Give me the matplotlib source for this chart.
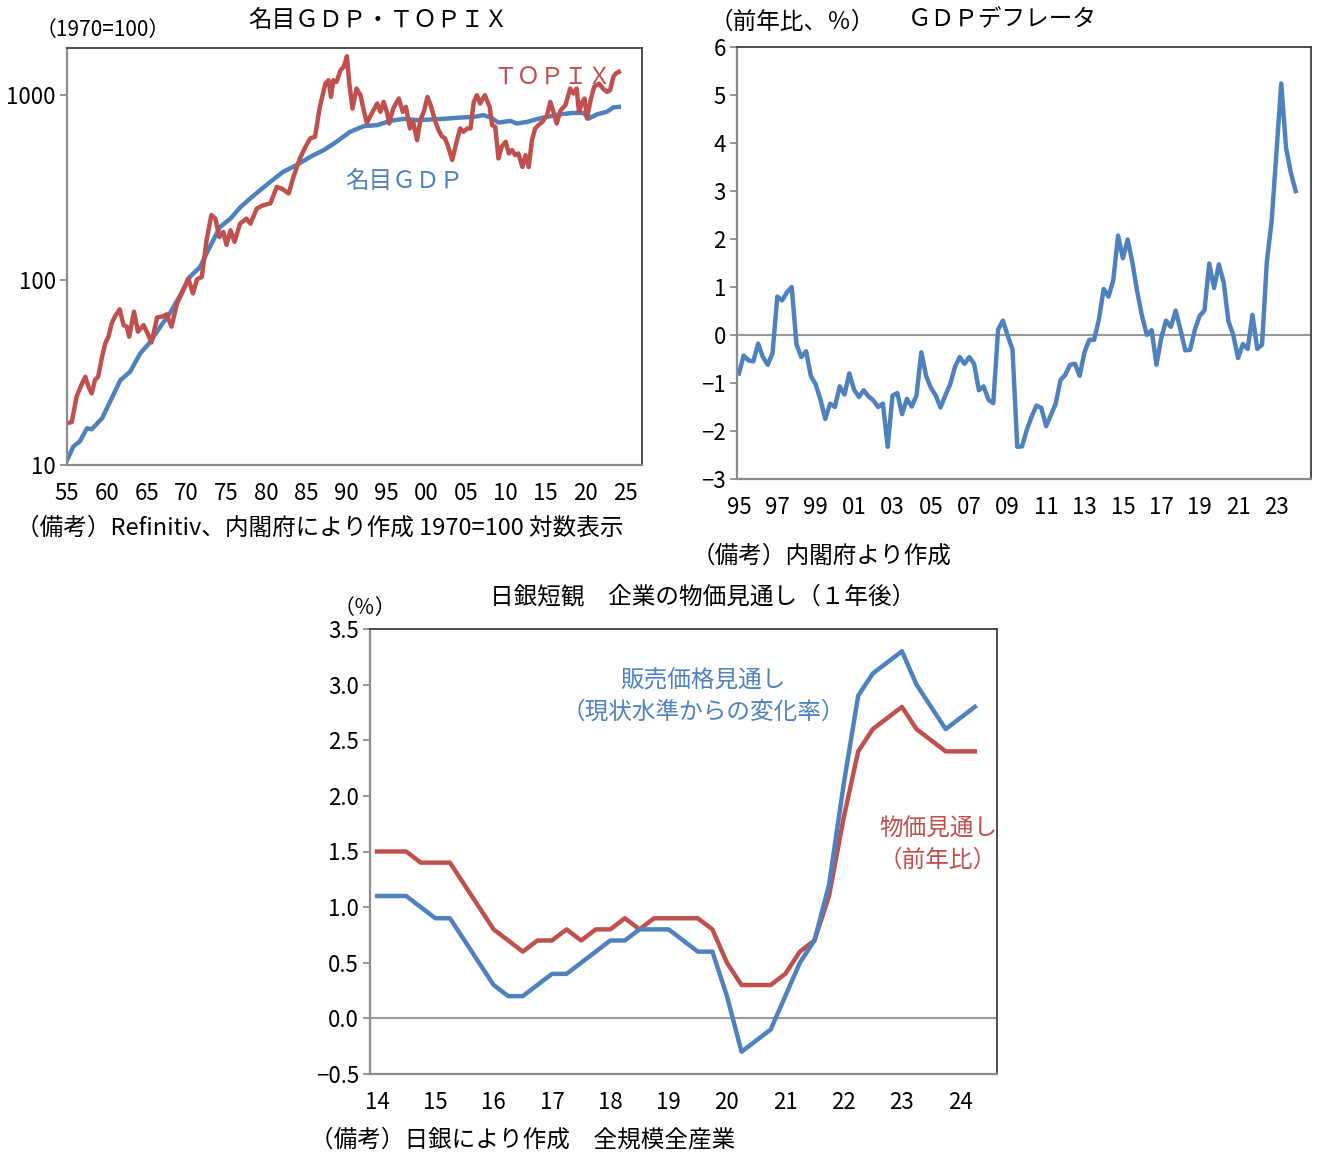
import matplotlib
matplotlib.use('Agg')
import matplotlib.pyplot as plt
from matplotlib.ticker import FixedLocator, NullLocator

plt.rcParams['font.family'] = ['Noto Sans CJK JP', 'DejaVu Sans']
NUM_FONT = ['Liberation Sans Narrow', 'Noto Sans CJK JP', 'DejaVu Sans']

BLUE = '#4F81BD'
RED = '#C0504D'

# ---- 名目GDP・TOPIX (1970=100, 対数) ----
gdp_year = [1955.0, 1955.8, 1956.6, 1957.5, 1958.1, 1959.4, 1960.4, 1961.7, 1962.9, 1964.2,
            1965.4, 1966.7, 1967.9, 1969.2, 1970.4, 1971.7, 1972.9, 1974.2, 1975.5, 1976.7,
            1978.0, 1979.2, 1980.5, 1982.1, 1983.8, 1985.5, 1987.2, 1988.8, 1990.5, 1992.2,
            1993.9, 1995.5, 1997.2, 1998.9, 2000.5, 2002.2, 2004.1, 2006.0, 2007.2, 2008.1,
            2009.1, 2010.6, 2011.4, 2012.7, 2013.9, 2015.2, 2016.9, 2018.5, 2019.8, 2020.4,
            2021.5, 2022.7, 2023.5, 2024.2]
gdp_value = [10.6, 12.6, 13.4, 15.8, 15.6, 17.9, 22.0, 28.8, 31.9, 40.2,
             46.0, 56.0, 66.1, 83.0, 104, 118, 151, 194, 215, 247,
             277, 306, 340, 385, 419, 464, 505, 560, 634, 680,
             689, 726, 745, 733, 739, 745, 756, 763, 780, 758,
             711, 726, 703, 717, 742, 763, 789, 802, 802, 748,
             789, 813, 859, 865]

topix_year = [1955.0, 1955.6, 1956.2, 1956.8, 1957.3, 1957.7, 1958.1, 1958.5, 1958.9, 1959.4,
              1959.8, 1960.2, 1960.6, 1961.0, 1961.6, 1962.1, 1962.5, 1962.8, 1963.4, 1963.9,
              1964.6, 1965.1, 1965.6, 1966.3, 1966.9, 1967.5, 1968.1, 1968.8, 1969.4, 1970.2,
              1970.8, 1971.3, 1971.9, 1972.5, 1973.1, 1973.6, 1974.1, 1974.6, 1975.0, 1975.5,
              1976.0, 1976.7, 1977.5, 1978.0, 1978.8, 1979.6, 1980.5, 1981.3, 1981.9, 1982.8,
              1983.4, 1984.2, 1984.9, 1985.5, 1986.1, 1986.7, 1987.4, 1987.8, 1988.1, 1988.4,
              1988.8, 1989.3, 1989.7, 1990.1, 1990.4, 1990.8, 1991.3, 1991.8, 1992.2, 1992.6,
              1993.2, 1993.9, 1994.3, 1994.7, 1995.1, 1995.4, 1995.9, 1996.6, 1997.1, 1997.5,
              1998.0, 1998.4, 1998.9, 1999.3, 1999.8, 2000.2, 2000.6, 2001.2, 2001.6, 2002.0,
              2002.4, 2002.8, 2003.3, 2003.9, 2004.3, 2004.7, 2005.2, 2005.6, 2006.0, 2006.4,
              2006.8, 2007.4, 2008.0, 2008.3, 2008.7, 2009.1, 2009.5, 2010.0, 2010.4, 2010.8,
              2011.2, 2011.6, 2012.1, 2012.5, 2012.9, 2013.3, 2013.7, 2014.1, 2014.6, 2015.2,
              2015.6, 2016.0, 2016.4, 2016.9, 2017.5, 2018.1, 2018.5, 2018.9, 2019.2, 2019.6,
              2019.9, 2020.2, 2020.7, 2021.1, 2021.7, 2022.2, 2022.7, 2023.1, 2023.5, 2023.8,
              2024.2]
topix_value = [16.8, 17.1, 23.4, 27.1, 30.0, 26.5, 24.4, 28.8, 30.0, 38.5,
               45.5, 49.4, 58.3, 63.4, 69.5, 57.1, 56.0, 49.4, 67.5, 52.6,
               57.1, 51.5, 46.0, 62.9, 63.4, 65.3, 56.0, 74.8, 84.7, 102,
               84.7, 101, 104, 164, 225, 215, 171, 182, 155, 186,
               161, 202, 215, 202, 244, 254, 260, 319, 313, 294,
               362, 455, 526, 584, 596, 865, 1156, 1205, 979, 1205,
               1180, 1365, 1422, 1625, 1156, 847, 1087, 1000, 830, 708,
               796, 902, 813, 920, 813, 703, 847, 960, 813, 865,
               661, 717, 571, 733, 830, 979, 883, 717, 647, 600,
               584, 526, 446, 571, 661, 634, 661, 661, 920, 1000,
               902, 1000, 865, 689, 675, 455, 526, 560, 484, 505,
               474, 484, 409, 474, 409, 571, 661, 689, 717, 780,
               920, 813, 703, 830, 883, 1087, 1021, 1087, 813, 920,
               960, 748, 960, 1110, 1156, 1087, 1042, 1064, 1256, 1309,
               1336]

# ---- GDPデフレータ (前年比、%) 1995Q1-2024Q1 ----
defl_start = 1995
deflator = [-0.8, -0.43, -0.53, -0.55, -0.18, -0.46, -0.62, -0.38,
            0.8, 0.72, 0.89, 1.0, -0.2, -0.46, -0.34, -0.86,
            -1.03, -1.35, -1.75, -1.43, -1.5, -1.07, -1.24, -0.8,
            -1.14, -1.29, -1.15, -1.28, -1.36, -1.5, -1.43, -2.33,
            -1.26, -1.21, -1.65, -1.33, -1.49, -1.26, -0.36, -0.85,
            -1.1, -1.26, -1.51, -1.26, -1.03, -0.67, -0.46, -0.6,
            -0.46, -0.6, -1.15, -1.07, -1.35, -1.42, 0.11, 0.3,
            -0.01, -0.3, -2.33, -2.32, -1.97, -1.7, -1.47, -1.52,
            -1.9, -1.67, -1.43, -0.94, -0.83, -0.62, -0.6, -0.85,
            -0.36, -0.1, -0.1, 0.32, 0.96, 0.8, 1.14, 2.07,
            1.6, 1.99, 1.5, 0.9, 0.39, 0.0, 0.1, -0.62,
            -0.06, 0.3, 0.17, 0.51, 0.11, -0.32, -0.31, 0.11,
            0.4, 0.51, 1.49, 0.98, 1.47, 1.1, 0.29, 0.0,
            -0.48, -0.19, -0.29, 0.42, -0.29, -0.2, 1.53, 2.37,
            3.8, 5.24, 3.9, 3.38, 3.0]
defl_ticks = ['95', '97', '99', '01', '03', '05', '07', '09', '11', '13',
              '15', '17', '19', '21', '23']

# ---- 日銀短観 企業の物価見通し(1年後) 2014Q1-2024Q2 ----
tankan_start = 2014
selling_price = [1.1, 1.1, 1.1, 1.0, 0.9, 0.9, 0.7, 0.5, 0.3, 0.2,
                 0.2, 0.3, 0.4, 0.4, 0.5, 0.6, 0.7, 0.7, 0.8, 0.8,
                 0.8, 0.7, 0.6, 0.6, 0.2, -0.3, -0.2, -0.1, 0.2, 0.5,
                 0.7, 1.2, 2.1, 2.9, 3.1, 3.2, 3.3, 3.0, 2.8, 2.6,
                 2.7, 2.8]
general_price = [1.5, 1.5, 1.5, 1.4, 1.4, 1.4, 1.2, 1.0, 0.8, 0.7,
                 0.6, 0.7, 0.7, 0.8, 0.7, 0.8, 0.8, 0.9, 0.8, 0.9,
                 0.9, 0.9, 0.9, 0.8, 0.5, 0.3, 0.3, 0.3, 0.4, 0.6,
                 0.7, 1.1, 1.8, 2.4, 2.6, 2.7, 2.8, 2.6, 2.5, 2.4,
                 2.4, 2.4]
tankan_ticks = ['14', '15', '16', '17', '18', '19', '20', '21', '22', '23', '24']

W, H = 1322, 1154
fig = plt.figure(figsize=(W / 100, H / 100), dpi=100)


def box(l, t, r, b):
    return [l / W, 1 - b / H, (r - l) / W, (b - t) / H]


def ftext(x, y, s, color='black', size=17, ha='left'):
    fig.text(x / W, 1 - y / H, s, color=color, fontsize=size, ha=ha, va='center')


def style_axes(ax):
    for side in ['left', 'bottom']:
        ax.spines[side].set_color('#8c8c8c')
        ax.spines[side].set_linewidth(1.6)
    for side in ['top', 'right']:
        ax.spines[side].set_color('#404040')
        ax.spines[side].set_linewidth(1.3)
    ax.tick_params(axis='y', direction='out', length=5, width=1.3, color='#8c8c8c',
                   labelsize=16, pad=3)
    ax.tick_params(axis='x', length=0, labelsize=16, pad=12)
    for lab in ax.get_xticklabels() + ax.get_yticklabels():
        lab.set_family(NUM_FONT)


# top-left
ax1 = fig.add_axes(box(67, 48, 642, 465))
ax1.plot(gdp_year, gdp_value, color=BLUE, lw=3.2)
ax1.plot(topix_year, topix_value, color=RED, lw=3.2)
ax1.set_yscale('log')
ax1.set_ylim(10, 1800)
ax1.set_xlim(1955, 2027.1)
ax1.yaxis.set_major_locator(FixedLocator([10, 100, 1000]))
ax1.yaxis.set_minor_locator(NullLocator())
ax1.set_yticklabels(['10', '100', '1000'])
ax1.set_xticks(list(range(1955, 2026, 5)))
ax1.set_xticklabels(['%02d' % (y % 100) for y in range(1955, 2026, 5)])
style_axes(ax1)

# top-right
ax2 = fig.add_axes(box(737, 47, 1311, 479))
defl_x = [defl_start + i / 4 for i in range(len(deflator))]
ax2.axhline(0, color='#999999', lw=1.5)
ax2.plot(defl_x, deflator, color=BLUE, lw=3.2)
ax2.set_ylim(-3, 6)
ax2.set_xlim(1994.9, 2024.8)
ax2.set_yticks(range(-3, 7))
ax2.set_yticklabels([str(v).replace('-', '−') for v in range(-3, 7)])
ax2.set_xticks([defl_start + 2 * i for i in range(len(defl_ticks))])
ax2.set_xticklabels(defl_ticks)
style_axes(ax2)

# bottom
ax3 = fig.add_axes(box(370, 629, 997, 1074))
tk_x = [tankan_start + i / 4 for i in range(len(selling_price))]
ax3.axhline(0, color='#999999', lw=1.5)
ax3.plot(tk_x, general_price, color=RED, lw=3.2)
ax3.plot(tk_x, selling_price, color=BLUE, lw=3.2)
ax3.set_ylim(-0.5, 3.5)
ax3.set_xlim(2013.88, 2024.63)
yt = [-0.5 + 0.5 * i for i in range(9)]
ax3.set_yticks(yt)
ax3.set_yticklabels([('%.1f' % v).replace('-', '−') for v in yt])
ax3.set_xticks([tankan_start + i for i in range(len(tankan_ticks))])
ax3.set_xticklabels(tankan_ticks)
style_axes(ax3)

# texts
ftext(378, 20, '名目ＧＤＰ・ＴＯＰＩＸ', ha='center')
ftext(36, 30, '（1970=100）', size=15)
ftext(553, 78, 'ＴＯＰＩＸ', color=RED, ha='center')
ftext(404, 181, '名目ＧＤＰ', color=BLUE, ha='center')
ftext(16, 528, '（備考）Refinitiv、内閣府により作成 1970=100 対数表示')

ftext(710, 22, '（前年比、％）')
ftext(1002, 20, 'ＧＤＰデフレータ', ha='center')
ftext(692, 556, '（備考）内閣府より作成')

ftext(703, 597, '日銀短観　企業の物価見通し（１年後）', ha='center')
ftext(334, 608, '（％）', size=15)
ftext(703, 681, '販売価格見通し', color=BLUE, ha='center')
ftext(703, 712, '（現状水準からの変化率）', color=BLUE, ha='center')
ftext(938, 829, '物価見通し', color=RED, ha='center')
ftext(938, 860, '（前年比）', color=RED, ha='center')
ftext(310, 1140, '（備考）日銀により作成　全規模全産業')

fig.savefig('out.png', dpi=100)
